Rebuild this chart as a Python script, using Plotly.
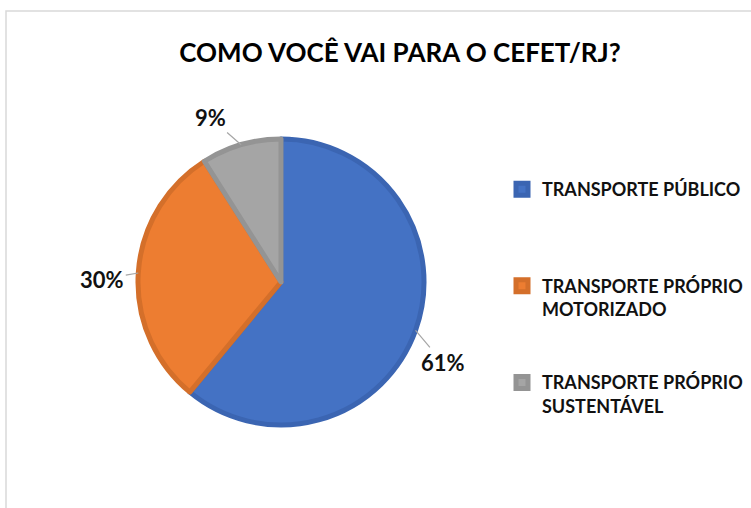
import math
import plotly.graph_objects as go

categories = ["TRANSPORTE PÚBLICO", "TRANSPORTE PRÓPRIO<br>MOTORIZADO", "TRANSPORTE PRÓPRIO<br>SUSTENTÁVEL"]
values = [61, 30, 9]
pct_labels = ["61%", "30%", "9%"]
colors = ["#4472C4", "#ED7D31", "#A5A5A5"]
edge_colors = ["#3B65B2", "#D46F2A", "#949494"]
label_offsets = [(27, 32), (-36, 6), (-31, -27)]  # px offsets of label from slice edge

W, H = 751, 508
cx, cy, r = 281, 282, 143  # pie centre / radius in px

FONT = "Lato, 'Open Sans', sans-serif"

# pad legend labels so the entries are spread like the original
legend_labels = [
    "<b>" + categories[0] + "</b><br> <br> <br> ",
    "<b>" + categories[1].replace("<br>", "</b><br><b>") + "</b><br> <br> ",
    "<b>" + categories[2].replace("<br>", "</b><br><b>") + "</b>",
]

fig = go.Figure(go.Pie(
    labels=legend_labels,
    values=values,
    sort=False,
    direction="clockwise",
    rotation=0,
    marker=dict(colors=colors, line=dict(color=edge_colors, width=5)),
    textinfo="none",
    hoverinfo="label+percent",
    domain=dict(x=[(cx - r) / W, (cx + r) / W], y=[(H - cy - r) / H, (H - cy + r) / H]),
))

# data labels with leader lines, anchored at each slice's mid-angle on the rim
total = sum(values)
cum = 0
for v, lab, (ox, oy) in zip(values, pct_labels, label_offsets):
    mid = (cum + v / 2) / total * 2 * math.pi
    cum += v
    ex = cx + r * math.sin(mid)
    ey = cy - r * math.cos(mid)
    fig.add_annotation(
        x=ex / W, y=1 - ey / H, xref="paper", yref="paper",
        text="<b>%s</b>" % lab, showarrow=True, arrowhead=0, arrowwidth=1.2,
        arrowcolor="#A6A6A6", ax=ox, ay=oy, standoff=0,
        font=dict(family=FONT, size=22, color="#111111"),
    )

fig.add_shape(type="rect", xref="paper", yref="paper",
              x0=6 / W, x1=1.05, y0=-0.05, y1=1 - 11 / H,
              line=dict(color="#D9D9D9", width=1.5), fillcolor="rgba(0,0,0,0)", layer="below")

fig.update_layout(
    width=W, height=H,
    margin=dict(l=0, r=0, t=0, b=0, autoexpand=False),
    paper_bgcolor="white",
    title=dict(text="<b>COMO VOCÊ VAI PARA O CEFET/RJ?</b>", x=400 / W, xanchor="center",
               y=1 - 53 / H, yanchor="middle",
               font=dict(family=FONT, size=26, color="#000000")),
    legend=dict(x=502 / W, y=1 - 171 / H, xanchor="left", yanchor="top",
                valign="top", font=dict(family=FONT, size=18, color="#111111"),
                itemwidth=30, bgcolor="rgba(0,0,0,0)"),
)

fig.write_html("out.html", config={"displayModeBar": False},
               post_script="document.body.style.margin='0';")
